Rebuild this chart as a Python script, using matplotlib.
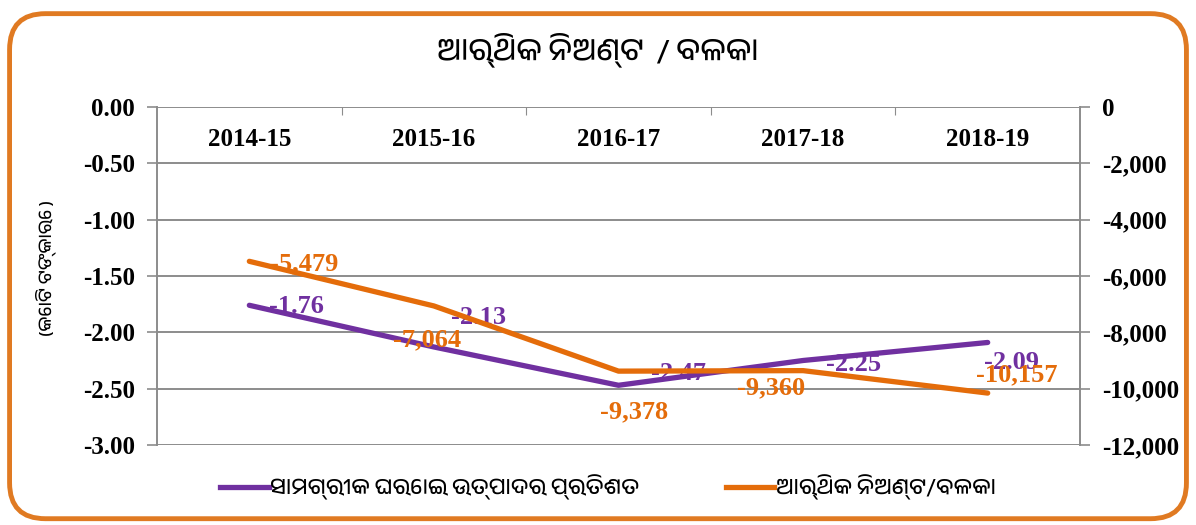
import matplotlib
matplotlib.use('Agg')
import matplotlib.pyplot as plt
from matplotlib import font_manager
from matplotlib.patches import FancyBboxPatch
from matplotlib.lines import Line2D
from matplotlib.transforms import blended_transform_factory

# data
years = ['2014-15', '2015-16', '2016-17', '2017-18', '2018-19']
gdp_pct = [-1.76, -2.13, -2.47, -2.25, -2.09]
deficit = [-5479, -7064, -9378, -9360, -10157]
deficit_labels = ['-5,479', '-7,064', '-9,378', '-9,360', '-10,157']

title = 'ଆର୍ଥିକ ନିଅଣ୍ଟ  / ବଳକା'
ylabel = '(କୋଟି ଟଙ୍କାରେ )'
name_pct = 'ସାମଗ୍ରୀକ ଘରୋଇ ଉତ୍ପାଦର ପ୍ରତିଶତ'
name_def = 'ଆର୍ଥିକ ନିଅଣ୍ଟ/ବଳକା'

purple = '#7030A0'
orange = '#E46C0A'
grid_col = '#8c8c8c'

# use an Odia font if the machine happens to have one
odia = [f.name for f in font_manager.fontManager.ttflist
        if 'oriya' in f.name.lower() or 'odia' in f.name.lower()]
ofam = odia[:1] + ['Noto Sans', 'DejaVu Sans']
serif = 'Liberation Serif'

fig = plt.figure(figsize=(11.96, 5.25), dpi=100)
fig.patch.set_facecolor('white')

# rounded orange frame
fig.patches.append(FancyBboxPatch((0.008, 0.012), 0.984, 0.962,
                                  boxstyle='round,pad=0,rounding_size=0.03',
                                  transform=fig.transFigure, fill=False,
                                  edgecolor='#E07A22', linewidth=3.5,
                                  mutation_aspect=1196 / 525))

ax = fig.add_axes([0.1313, 0.1524, 0.7717, 0.6438])
ax2 = ax.twinx()
x = list(range(len(years)))

ax.set_xlim(-0.5, len(years) - 0.5)
ax.set_ylim(-3, 0)
ax2.set_ylim(-12000, 0)
ax.set_yticks([0, -0.5, -1, -1.5, -2, -2.5, -3])
ax.set_yticklabels(['0.00', '-0.50', '-1.00', '-1.50', '-2.00', '-2.50', '-3.00'])
ax2.set_yticks([0, -2000, -4000, -6000, -8000, -10000, -12000])
ax2.set_yticklabels(['0', '-2,000', '-4,000', '-6,000', '-8,000', '-10,000', '-12,000'])

for a in (ax, ax2):
    for lab in a.get_yticklabels():
        lab.set_fontfamily(serif)
        lab.set_fontweight('bold')
        lab.set_fontsize(18)
    a.tick_params(axis='y', length=7, width=1.2, color=grid_col, pad=9)
    for s in a.spines.values():
        s.set_visible(False)

ax.yaxis.grid(True, color=grid_col, linewidth=1.4)
ax.set_axisbelow(True)
ax.spines['left'].set_visible(True)
ax.spines['left'].set_color(grid_col)
ax.spines['left'].set_linewidth(1.4)
ax2.spines['right'].set_visible(True)
ax2.spines['right'].set_color(grid_col)
ax2.spines['right'].set_linewidth(1.4)

# category ticks on the zero line, labels drawn just under it
ax.set_xticks([i + 0.5 for i in x[:-1]])
ax.tick_params(axis='x', bottom=False, top=True, direction='in', length=6,
               color=grid_col, labelbottom=False, labeltop=False)
tr = blended_transform_factory(ax.transData, ax.transAxes)
for i, yr in enumerate(years):
    ax.text(i, 0.903, yr, transform=tr, ha='center', va='center',
            fontfamily=serif, fontweight='bold', fontsize=18)

ax.plot(x, gdp_pct, color=purple, linewidth=3.8, solid_capstyle='round', zorder=3)
ax2.plot(x, deficit, color=orange, linewidth=3.8, solid_capstyle='round', zorder=3)

# label offsets in pixels (x right, y up)
pct_off = [(47, -1), (45, 29), (60, 12), (50, -4), (24, -20)]
def_off = [(55, -2), (-7, -34), (16, -41), (-32, -17), (29, 18)]
for i in x:
    ax.annotate('%.2f' % gdp_pct[i], (i, gdp_pct[i]), xytext=pct_off[i],
                textcoords='offset pixels', ha='center', va='center',
                color=purple, fontfamily=serif, fontweight='bold', fontsize=19,
                zorder=4)
    ax2.annotate(deficit_labels[i], (i, deficit[i]), xytext=def_off[i],
                 textcoords='offset pixels', ha='center', va='center',
                 color=orange, fontfamily=serif, fontweight='bold', fontsize=19,
                 zorder=4)

fig.text(0.5, 0.905, title, ha='center', va='center', fontsize=22, family=ofam)
fig.text(0.038, 0.49, ylabel, ha='center', va='center', rotation=90,
         fontsize=13, family=ofam)

handles = [Line2D([], [], color=purple, linewidth=3.8),
           Line2D([], [], color=orange, linewidth=3.8)]
fig.legend(handles, [name_pct, name_def], loc='center', ncol=2,
           bbox_to_anchor=(0.508, 0.072), frameon=False, handlelength=2.2,
           handletextpad=0.05, columnspacing=3.9,
           prop={'family': ofam, 'size': 16})

fig.savefig('out.png', dpi=100, facecolor='white')
